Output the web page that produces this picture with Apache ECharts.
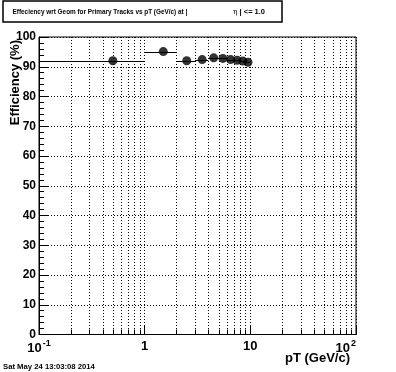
<!DOCTYPE html>
<html><head><meta charset="utf-8">
<script src="https://cdn.jsdelivr.net/npm/echarts@6/dist/echarts.min.js"></script>
<style>html,body{margin:0;padding:0;background:#fff}#c{width:396px;height:372px}</style>
</head><body><div id="c"></div>
<script>
// ---- data ----
const ptCenter = [0.5, 1.5, 2.5, 3.5, 4.5, 5.5, 6.5, 7.5, 8.5, 9.5];
const ptLow    = [0, 1, 2, 3, 4, 5, 6, 7, 8, 9];
const ptHigh   = [1, 2, 3, 4, 5, 6, 7, 8, 9, 10];
const efficiency = [92.0, 95.1, 92.0, 92.4, 93.0, 92.8, 92.4, 92.2, 91.9, 91.5];
const xMinorTicks = [0.2,0.3,0.4,0.5,0.6,0.7,0.8,0.9, 2,3,4,5,6,7,8,9, 20,30,40,50,60,70,80,90];
const xMin = 0.1, xMax = 100;
const yMin = 0, yMax = 100, yInterval = 10;
const titleMain = 'Effeciency wrt Geom for Primary Tracks vs pT (GeV/c) at |';
const titleEta = 'η';
const titleRest = ' | <= 1.0';
const yTitle = 'Efficiency (%)';
const xTitle = 'pT (GeV/c)';
const dateText = 'Sat May 24 13:03:08 2014';

const FONT = '"Liberation Sans", Arial, Helvetica, sans-serif';
const chart = echarts.init(document.getElementById('c'), null, {renderer: 'canvas'});
const px = v => Math.round(v) + 0.5;

const option = {
  animation: false,
  backgroundColor: '#fff',
  grid: {left: 39, right: 40, top: 37, bottom: 37.5, show: true, borderColor: '#000', borderWidth: 1, backgroundColor: 'transparent'},
  xAxis: {
    type: 'log', logBase: 10, min: xMin, max: xMax,
    axisLine: {show: true, onZero: false, lineStyle: {color: '#000', width: 1}},
    axisTick: {show: true, inside: true, length: 9, lineStyle: {color: '#000'}},
    splitLine: {show: true, lineStyle: {color: '#000', width: 1, type: [1, 2]}},
    axisLabel: {
      color: '#000', fontFamily: FONT, fontWeight: 'bold', fontSize: 13, margin: 5,
      alignMaxLabel: 'right',
      formatter: function (v) {
        const e = Math.round(Math.log10(v));
        if (e === 0) return '1';
        if (e === 1) return '10';
        return '10{sup|' + e + '}';
      },
      rich: {sup: {fontSize: 9, fontWeight: 'bold', fontFamily: FONT, color: '#000', padding: [0, 0, 9, 1]}}
    }
  },
  yAxis: {
    type: 'value', min: yMin, max: yMax, interval: yInterval,
    axisLine: {show: true, lineStyle: {color: '#000', width: 1}},
    axisTick: {show: true, inside: true, length: 9, lineStyle: {color: '#000'}},
    minorTick: {show: true, splitNumber: 5, length: 5, lineStyle: {color: '#000'}},
    splitLine: {show: true, lineStyle: {color: '#000', width: 1, type: [1, 2]}},
    axisLabel: {color: '#000', fontFamily: FONT, fontWeight: 'bold', fontSize: 12, margin: 3}
  },
  graphic: [
    {type: 'rect', shape: {x: 3, y: 1, width: 279, height: 21}, style: {fill: '#fff', stroke: '#000', lineWidth: 1.5}, z: 10},
    {type: 'text', x: 12.5, y: 12, style: {text: titleMain, font: 'bold 6.4px ' + FONT, fill: '#000', textVerticalAlign: 'middle'}, z: 11},
    {type: 'text', x: 233, y: 12, style: {
      text: '{eta|' + titleEta + '}' + titleRest, font: 'bold 7.5px ' + FONT, fill: '#000', textVerticalAlign: 'middle',
      rich: {eta: {font: '7.5px "DejaVu Serif", serif', fill: '#000'}}
    }, z: 11},
    {type: 'text', x: 15, y: 40, rotation: Math.PI / 2, style: {text: yTitle, font: 'bold 13px ' + FONT, fill: '#000', textAlign: 'right', textVerticalAlign: 'middle'}, z: 11},
    {type: 'text', x: 350, y: 358, style: {text: xTitle, font: 'bold 13px ' + FONT, fill: '#000', textAlign: 'right', textVerticalAlign: 'middle'}, z: 11},
    {type: 'text', x: 3, y: 367, style: {text: dateText, font: 'bold 7.7px ' + FONT, fill: '#000', textVerticalAlign: 'middle'}, z: 11}
  ],
  series: [
    {
      type: 'custom', silent: true, z: 1,
      data: xMinorTicks.map(v => [v, yMin]),
      encode: {x: 0, y: 1},
      renderItem: function (params, api) {
        const v = api.value(0);
        const top = api.coord([v, yMax]);
        const bot = api.coord([v, yMin]);
        const x = px(top[0]);
        return {type: 'group', children: [
          {type: 'line', shape: {x1: x, y1: top[1], x2: x, y2: bot[1]}, style: {stroke: '#000', lineWidth: 1, lineDash: [1, 2]}},
          {type: 'line', shape: {x1: x, y1: bot[1], x2: x, y2: bot[1] - 5}, style: {stroke: '#000', lineWidth: 1}}
        ]};
      }
    },
    {
      type: 'custom', silent: true, z: 2,
      data: ptLow.map((lo, i) => [Math.max(lo, xMin), ptHigh[i], efficiency[i]]),
      encode: {x: [0, 1], y: 2},
      renderItem: function (params, api) {
        const a = api.coord([api.value(0), api.value(2)]);
        const b = api.coord([api.value(1), api.value(2)]);
        return {type: 'line', shape: {x1: a[0], y1: px(a[1]), x2: b[0], y2: px(a[1])}, style: {stroke: '#000', lineWidth: 1}};
      }
    },
    {
      type: 'scatter', z: 3, symbol: 'circle', symbolSize: 9,
      itemStyle: {color: '#000'},
      data: ptCenter.map((x, i) => [x, efficiency[i]])
    }
  ]
};
chart.setOption(option);
</script>
</body></html>
